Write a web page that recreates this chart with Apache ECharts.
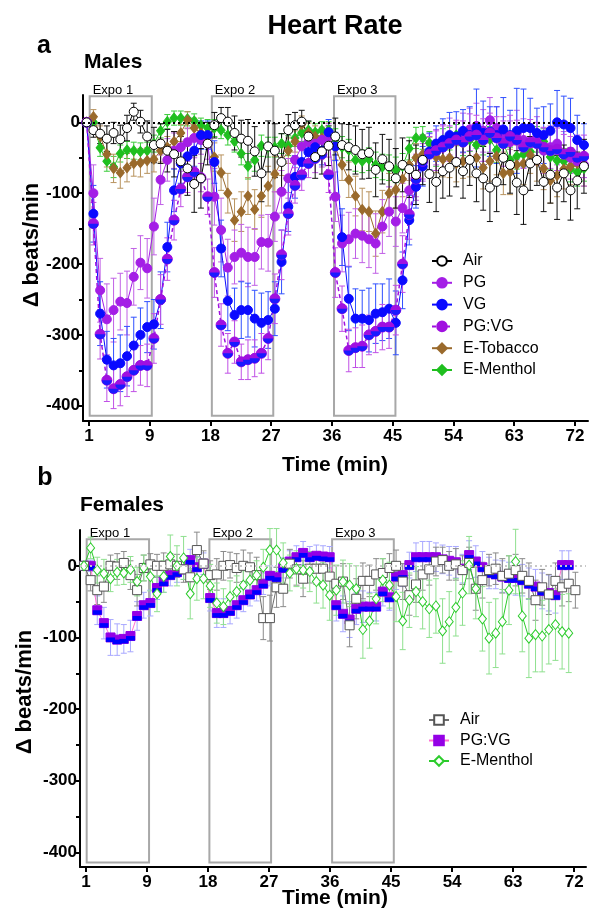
<!DOCTYPE html>
<html><head><meta charset="utf-8">
<script src="https://cdn.jsdelivr.net/npm/echarts@6/dist/echarts.min.js"></script>
<style>html,body{margin:0;padding:0;background:#fff}#c{width:589px;height:912px}</style>
</head><body><div id="c"></div>
<script>
// ---- axis ticks / labels ----
const tickMinutes = [0, 9, 18, 27, 36, 45, 54, 63, 72];
const tickLabels = ['1', '9', '18', '27', '36', '45', '54', '63', '72'];
const yTicks = [-400, -300, -200, -100, 0];
const yMinor = [-350, -250, -150, -50];
// ---- exposure windows ----
const expoNames = ['Expo 1', 'Expo 2', 'Expo 3'];
const expoStart = [0.1, 18.2, 36.3];
const expoEnd = [9.3, 27.3, 45.4];
const expoTop = 37, expoBottom = -414;

// ---- Males (panel a): mean and error, one value per minute ----
const airM = [0,-11,-16,-23,-15,-24,-8,15,1,-20,-32,-30,-40,-45,-55,-65,-87,-79,-30,-4,6,1,-15,-23,-26,-41,-72,-34,-40,-56,-11,-4,1,-20,-49,-41,-33,-20,-32,-35,-39,-45,-43,-67,-52,-62,-79,-60,-66,-74,-53,-73,-84,-69,-64,-56,-69,-53,-72,-79,-92,-84,-50,-60,-85,-96,-58,-53,-84,-74,-92,-72,-96,-82,-62];
const airE = [0,10,14,18,15,20,18,12,16,22,25,28,30,32,35,38,40,42,30,18,15,20,24,26,30,35,40,36,38,40,22,18,16,22,30,32,28,26,30,32,34,35,36,38,35,38,42,38,40,42,35,40,42,38,40,35,38,36,40,45,48,42,38,40,45,48,38,36,42,40,45,40,42,40,38];
const pgM = [0,-100,-237,-278,-265,-253,-255,-218,-198,-206,-147,-81,-53,-40,-35,-28,-22,-25,-30,-105,-152,-205,-190,-184,-190,-190,-169,-170,-133,-98,-79,-53,-34,-28,-30,-25,-20,-105,-171,-165,-157,-160,-165,-171,-147,-126,-140,-121,-96,-75,-55,-42,-35,-28,-20,-25,-15,-10,-5,-12,3,-8,-20,-28,-15,-25,-30,-22,-40,-35,-30,-45,-50,-55,-60];
const pgE = [0,40,45,50,45,40,45,40,38,42,40,35,30,25,22,20,18,20,22,40,45,40,38,40,42,40,38,40,35,30,28,25,22,20,20,18,18,35,40,38,35,38,40,42,38,35,35,35,32,30,28,26,25,25,26,25,28,30,32,30,32,30,28,30,32,30,28,30,32,30,30,32,30,28,30];
const vgM = [0,-129,-270,-335,-343,-340,-330,-315,-300,-289,-285,-251,-176,-96,-58,-48,-40,-18,-18,-56,-178,-252,-272,-265,-265,-277,-283,-279,-263,-197,-119,-77,-56,-42,-35,-40,-14,-34,-162,-249,-277,-277,-279,-270,-268,-263,-283,-223,-138,-91,-62,-41,-30,-25,-18,-20,-12,-18,-8,-15,-13,-18,-10,-18,-12,-8,-8,-15,-18,-12,0,-3,-8,-25,-32];
const vgE = [0,40,45,40,38,40,42,40,38,36,35,40,35,30,28,25,22,20,20,30,40,42,38,40,38,40,42,40,38,45,35,30,25,22,20,20,18,20,40,45,42,40,45,42,40,42,45,40,35,30,28,26,25,30,32,35,30,40,55,45,35,40,45,35,60,55,42,35,40,38,45,40,42,35,30];
const pgvgM = [0,-143,-299,-364,-376,-370,-359,-350,-343,-343,-305,-250,-193,-138,-94,-77,-70,-78,-105,-212,-286,-326,-310,-338,-335,-333,-326,-305,-249,-187,-129,-89,-74,-58,-51,-45,-74,-212,-263,-322,-318,-316,-300,-295,-289,-289,-265,-200,-130,-80,-55,-45,-40,-35,-30,-25,-28,-20,-18,-25,-15,-22,-30,-20,-25,-35,-28,-30,-35,-40,-38,-45,-42,-50,-48];
const pgvgE = [0,30,35,30,28,30,28,30,28,30,35,35,30,28,25,22,20,20,25,35,30,28,30,25,28,26,28,30,35,35,30,25,22,20,20,18,25,35,32,30,28,30,28,30,32,30,35,40,35,30,25,25,28,30,25,28,30,32,28,30,28,30,32,30,28,30,32,30,28,30,30,28,30,32,30];
const tobM = [0,8,-20,-45,-65,-71,-64,-58,-57,-54,-52,-40,-35,-27,-15,3,-8,-15,-20,-49,-71,-100,-138,-126,-104,-123,-104,-90,-73,-55,-40,-27,-3,-15,-20,-22,-15,-35,-60,-81,-104,-123,-126,-157,-126,-100,-95,-80,-60,-50,-45,-45,-49,-52,-50,-58,-55,-52,-50,-64,-55,-48,-72,-70,-60,-58,-46,-55,-65,-82,-75,-66,-62,-58,-60];
const tobE = [0,10,15,18,20,22,20,18,20,18,18,16,15,14,12,12,14,15,15,20,25,28,30,28,26,28,30,28,25,20,18,15,12,14,15,15,14,18,22,25,28,30,28,32,30,28,26,25,22,20,22,24,22,25,28,26,24,25,28,30,28,26,30,32,28,30,26,28,30,32,30,28,26,28,30];
const menM = [0,0,-36,-55,-63,-44,-39,-40,-41,-40,-30,-12,1,6,6,5,2,-4,-8,-8,-11,-18,-27,-44,-62,-53,-33,-35,-35,-30,-33,-22,-15,-11,-14,-11,-11,-23,-35,-39,-53,-55,-52,-60,-63,-64,-67,-62,-37,-22,-22,-29,-44,-25,-23,-18,-29,-25,-32,-28,-24,-39,-29,-53,-48,-45,-41,-24,-27,-49,-54,-55,-66,-70,-65];
const menE = [0,8,12,14,15,12,12,12,12,12,12,10,10,10,10,10,10,10,12,12,12,14,15,16,18,16,15,14,14,14,14,12,12,12,12,12,12,14,15,15,16,16,16,18,18,18,18,18,16,15,16,16,18,16,16,15,18,16,18,18,18,18,16,18,18,16,16,18,18,18,20,18,18,20,18];

// ---- Females (panel b) ----
const fAirM = [0,-20,-34,-29,0,-1,4,-13,-34,-3,2,0,0,2,0,-5,-16,22,3,-13,-12,0,1,-3,0,-2,-13,-73,-73,-30,-32,3,-5,-18,-4,-4,-4,-15,-25,-22,-83,-46,-21,-21,-12,-10,-3,0,-22,-41,-26,-12,-5,6,8,0,2,-6,4,-32,-20,-6,-4,-14,-11,-6,-14,-21,-48,-30,-40,-21,-30,-25,-34];
const fAirE = [0,15,20,22,15,18,16,20,22,18,15,16,18,15,16,18,20,25,18,20,22,20,18,20,22,20,25,30,32,28,25,20,22,25,20,22,20,22,25,25,30,28,25,22,22,20,20,22,25,28,25,22,22,20,18,20,22,20,22,30,25,22,22,24,25,22,24,25,28,25,28,25,26,25,25];
const fPgvgM = [0,0,-62,-80,-100,-103,-102,-98,-70,-55,-52,-31,-22,-13,-9,-5,8,-2,3,-45,-66,-66,-63,-55,-48,-40,-34,-25,-14,-16,-3,6,12,18,12,14,13,12,-55,-67,-75,-60,-57,-57,-57,-36,-44,-15,-13,1,12,12,12,12,9,7,5,-4,15,6,-2,-10,-12,-15,-17,-17,-20,-25,-29,-35,-38,-41,1,1];
const fPgvgE = [0,8,20,22,25,22,20,22,20,18,18,16,15,15,14,14,15,15,15,18,20,20,18,18,16,16,15,15,14,14,14,15,16,16,15,15,15,15,22,25,25,22,22,20,20,20,18,18,16,18,20,22,22,20,20,20,22,20,20,22,22,22,20,22,22,24,22,22,24,25,25,25,20,20];
const fMenM = [0,25,-6,-11,-18,-9,-10,-5,-22,-3,-15,-39,-15,13,0,11,-39,-18,-18,-28,-52,-57,-43,-36,-27,-20,-13,-2,22,22,4,-10,-4,-6,-8,-22,-27,-41,-34,-22,-27,-32,-89,-77,-46,-20,-27,-43,-77,-48,-36,-50,-60,-56,-91,-78,-58,-38,1,-32,-74,-101,-94,-78,-34,6,-70,-101,-96,-98,-89,-82,-92,-94];
const fMenE = [0,15,18,20,18,18,16,18,20,18,20,25,22,30,28,30,35,30,28,30,28,25,22,22,20,20,20,25,30,30,28,25,25,25,28,30,32,35,35,30,30,32,40,38,35,30,32,35,40,38,35,38,40,38,45,42,40,45,40,42,45,50,48,45,48,45,50,55,52,50,48,50,52,55];

const FONT = '"Liberation Sans", Arial, Helvetica, sans-serif';
const pts = arr => arr.map((v, i) => [i, v]);

function errSeries(vals, errs, color, xi, yi) {
  return {
    type: 'custom', xAxisIndex: xi, yAxisIndex: yi, silent: true, clip: false,
    encode: { x: 0, y: [1, 2] },
    data: vals.map((v, i) => [i, v - errs[i], v + errs[i]]),
    renderItem(params, api) {
      const x = api.value(0);
      const lo = api.coord([x, api.value(1)]);
      const hi = api.coord([x, api.value(2)]);
      const w = 3;
      const st = { stroke: color, lineWidth: 1 };
      return { type: 'group', children: [
        { type: 'line', shape: { x1: lo[0], y1: lo[1], x2: hi[0], y2: hi[1] }, style: st },
        { type: 'line', shape: { x1: hi[0] - w, y1: hi[1], x2: hi[0] + w, y2: hi[1] }, style: st },
        { type: 'line', shape: { x1: lo[0] - w, y1: lo[1], x2: lo[0] + w, y2: lo[1] }, style: st }
      ] };
    }
  };
}

function lineSeries(name, vals, xi, yi, lineColor, symbol, size, fill, border, dashed, lw) {
  return {
    type: 'line', name, xAxisIndex: xi, yAxisIndex: yi, data: pts(vals),
    symbol, symbolSize: size, showAllSymbol: true, clip: false,
    lineStyle: { color: lineColor, width: lw || 1, type: dashed ? [4, 3] : 'solid' },
    itemStyle: { color: fill, borderColor: border, borderWidth: 1 },
    emphasis: { disabled: true }
  };
}

// lower-half overlay for the two-coloured PG:VG markers
function halfSeries(name, vals, xi, yi, symbol, size, color) {
  return {
    type: 'line', name, xAxisIndex: xi, yAxisIndex: yi, data: pts(vals),
    symbol, symbolSize: size, symbolOffset: [0, size[1] / 2], showAllSymbol: true, clip: false,
    lineStyle: { width: 0, opacity: 0 },
    itemStyle: { color, borderWidth: 0 }, silent: true, emphasis: { disabled: true }
  };
}

function boxSeries(xi, yi, zeroColor) {
  return {
    type: 'custom', xAxisIndex: xi, yAxisIndex: yi, silent: true, clip: false,
    encode: { x: [0, 1], y: [2, 3] },
    data: expoNames.map((n, i) => [expoStart[i], expoEnd[i], expoTop, expoBottom]),
    renderItem(params, api) {
      const p1 = api.coord([api.value(0), api.value(2)]);
      const p2 = api.coord([api.value(1), api.value(3)]);
      return { type: 'group', children: [
        { type: 'rect', shape: { x: p1[0], y: p1[1], width: p2[0] - p1[0], height: p2[1] - p1[1] },
          style: { fill: 'none', stroke: '#a8a8a8', lineWidth: 2 } },
        { type: 'text', x: p1[0] + 3, y: p1[1] + 1,
          style: { text: expoNames[params.dataIndex], fontSize: 13, fontFamily: FONT, fill: '#000', align: 'left', verticalAlign: 'bottom' } }
      ] };
    },
    markLine: {
      silent: true, symbol: 'none', label: { show: false },
      lineStyle: { color: zeroColor, width: 2, type: [2, 3] },
      data: [{ yAxis: 0 }]
    }
  };
}

function xAxes(grid, visMin, visMax, dataMin, dataMax) {
  return [{
    gridIndex: grid, type: 'value', min: visMin, max: visMax,
    axisLine: { show: true, onZero: false, lineStyle: { color: '#000', width: 2 } },
    axisTick: { show: true, customValues: tickMinutes, length: 5, lineStyle: { color: '#000', width: 2 } },
    axisLabel: { customValues: tickMinutes, formatter: v => tickLabels[tickMinutes.indexOf(v)],
      fontSize: 17, fontWeight: 'bold', fontFamily: FONT, color: '#000', margin: 7 },
    splitLine: { show: false }
  }, {
    gridIndex: grid, type: 'value', min: dataMin, max: dataMax, show: false,
    axisLine: { onZero: false }, splitLine: { show: false }
  }];
}

function yAxes(grid, min, max) {
  return [{
    gridIndex: grid, type: 'value', min, max, position: 'left',
    axisLine: { show: true, onZero: false, lineStyle: { color: '#000', width: 2 } },
    axisTick: { show: true, customValues: yTicks, length: 6, lineStyle: { color: '#000', width: 2 } },
    axisLabel: { customValues: yTicks, fontSize: 17, fontWeight: 'bold', fontFamily: FONT, color: '#000', margin: 3 },
    splitLine: { show: false }
  }, {
    gridIndex: grid, type: 'value', min, max, position: 'left', offset: 0,
    axisLine: { show: false, onZero: false },
    axisTick: { show: true, customValues: yMinor, length: 4, lineStyle: { color: '#000', width: 2 } },
    axisLabel: { show: false }, splitLine: { show: false }
  }];
}

const C = {
  pg: '#a41ee6', pgErr: '#c060e6', vg: '#0a0aff', vgErr: '#3050ff',
  pgvg: '#a010e0', pgvgLow: '#1a1aff', pgvgErr: '#c050e6',
  tob: '#9a6a2c', tobErr: '#b8935e', men: '#1fbf1f', menErr: '#3acc3a',
  fAir: '#6e6e6e', fAirErr: '#8a8a8a', fPgvgLine: '#ff6fd2', fPgvgTop: '#9400e6', fPgvgLow: '#0000ff',
  fPgvgErr: '#a8a8ff', fMen: '#2ccc2c', fMenErr: '#8fe08f'
};

const series = [
  boxSeries(0, 0, '#000'),
  errSeries(menM, menE, C.menErr, 1, 0),
  lineSeries('E-Menthol', menM, 1, 0, C.men, 'diamond', [8, 10], C.men, C.men),
  errSeries(tobM, tobE, C.tobErr, 1, 0),
  lineSeries('E-Tobacco', tobM, 1, 0, C.tob, 'diamond', [8, 10], C.tob, C.tob),
  errSeries(pgM, pgE, C.pgErr, 1, 0),
  lineSeries('PG', pgM, 1, 0, C.pg, 'circle', 9, C.pg, C.pg),
  errSeries(vgM, vgE, C.vgErr, 1, 0),
  lineSeries('VG', vgM, 1, 0, C.vg, 'circle', 9, C.vg, C.vg),
  errSeries(pgvgM, pgvgE, C.pgvgErr, 1, 0),
  lineSeries('PG:VG', pgvgM, 1, 0, C.pgvg, 'circle', 10, C.pgvg, C.pgvg, true, 1.5),
  halfSeries('PG:VG lower', pgvgM, 1, 0, 'path://M0,0A10,10,0,0,0,20,0Z', [10, 5], C.pgvgLow),
  errSeries(airM, airE, '#111', 1, 0),
  lineSeries('Air', airM, 1, 0, '#000', 'circle', 9, '#fff', '#000'),

  boxSeries(2, 2, '#c8c8c8'),
  errSeries(fPgvgM, fPgvgE, C.fPgvgErr, 3, 2),
  errSeries(fAirM, fAirE, C.fAirErr, 3, 2),
  errSeries(fMenM, fMenE, C.fMenErr, 3, 2),
  lineSeries('F-PG:VG', fPgvgM, 3, 2, C.fPgvgLine, 'rect', 9, C.fPgvgTop, C.fPgvgTop),
  halfSeries('F-PG:VG lower', fPgvgM, 3, 2, 'rect', [9, 4.5], C.fPgvgLow),
  lineSeries('F-Air', fAirM, 3, 2, C.fAir, 'rect', 9, '#fff', '#555'),
  lineSeries('F-E-Menthol', fMenM, 3, 2, C.fMen, 'diamond', [8, 10], '#fff', C.fMen)
];

const legendText = { fontFamily: FONT, fontSize: 16, color: '#000', lineHeight: 16, padding: [0, 0, 0, 6] };

const option = {
  animation: false,
  backgroundColor: '#fff',
  grid: [
    { left: 83, right: 1, top: 95, height: 326, outerBoundsMode: 'none', containLabel: false },
    { left: 80, right: 3, top: 530, height: 337, outerBoundsMode: 'none', containLabel: false }
  ],
  xAxis: [].concat(xAxes(0, -0.89, 73.93, -0.55, 74.6), xAxes(1, -0.885, 73.75, -0.6, 75.6)),
  yAxis: [].concat(yAxes(0, -421.5, 38.6), yAxes(1, -420.4, 50)),
  legend: [{
    data: ['Air', 'PG', 'VG', 'PG:VG', 'E-Tobacco', 'E-Menthol'],
    orient: 'vertical', left: 426, top: 248, itemWidth: 20, itemHeight: 12, itemGap: 5.8,
    selectedMode: false, textStyle: legendText
  }, {
    data: ['F-Air', 'F-PG:VG', 'F-E-Menthol'],
    formatter: n => n.replace(/^F-/, ''),
    orient: 'vertical', left: 423, top: 707, itemWidth: 20, itemHeight: 12, itemGap: 4.5,
    selectedMode: false, textStyle: legendText
  }],
  graphic: [
    { type: 'text', x: 335, y: 27, style: { text: 'Heart Rate', fontSize: 27, fontWeight: 'bold', fontFamily: FONT, fill: '#000', align: 'center', verticalAlign: 'middle' } },
    { type: 'text', x: 44, y: 46, style: { text: 'a', fontSize: 25, fontWeight: 'bold', fontFamily: FONT, fill: '#000', align: 'center', verticalAlign: 'middle' } },
    { type: 'text', x: 84, y: 62, style: { text: 'Males', fontSize: 21, fontWeight: 'bold', fontFamily: FONT, fill: '#000', align: 'left', verticalAlign: 'middle' } },
    { type: 'text', x: 45, y: 478, style: { text: 'b', fontSize: 25, fontWeight: 'bold', fontFamily: FONT, fill: '#000', align: 'center', verticalAlign: 'middle' } },
    { type: 'text', x: 80, y: 505, style: { text: 'Females', fontSize: 21, fontWeight: 'bold', fontFamily: FONT, fill: '#000', align: 'left', verticalAlign: 'middle' } },
    { type: 'text', x: 335, y: 465, style: { text: 'Time (min)', fontSize: 21, fontWeight: 'bold', fontFamily: FONT, fill: '#000', align: 'center', verticalAlign: 'middle' } },
    { type: 'text', x: 335, y: 898, style: { text: 'Time (min)', fontSize: 21, fontWeight: 'bold', fontFamily: FONT, fill: '#000', align: 'center', verticalAlign: 'middle' } },
    { type: 'text', x: 32, y: 245, rotation: Math.PI / 2, style: { text: 'Δ beats/min', fontSize: 22, fontWeight: 'bold', fontFamily: FONT, fill: '#000', align: 'center', verticalAlign: 'middle' } },
    { type: 'text', x: 25, y: 692, rotation: Math.PI / 2, style: { text: 'Δ beats/min', fontSize: 22, fontWeight: 'bold', fontFamily: FONT, fill: '#000', align: 'center', verticalAlign: 'middle' } }
  ],
  series
};

const chart = echarts.init(document.getElementById('c'), null, { renderer: 'canvas', width: 589, height: 912 });
chart.setOption(option);
</script>
</body></html>
